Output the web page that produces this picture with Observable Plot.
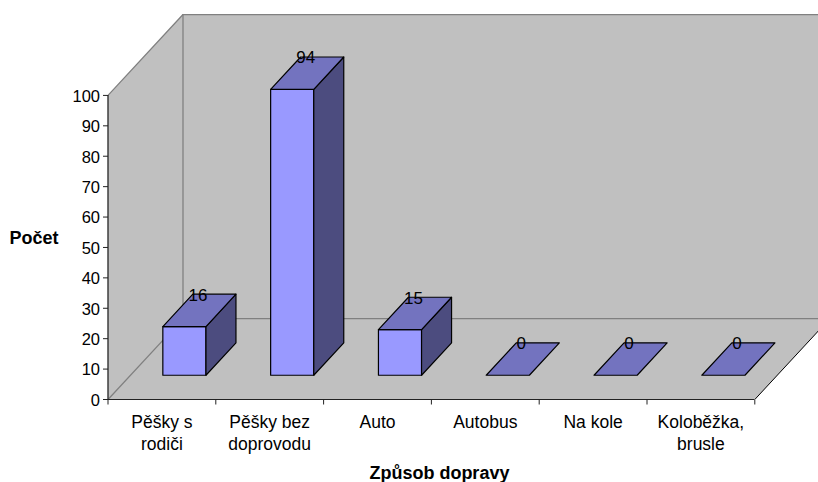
<!DOCTYPE html>
<html><head><meta charset="utf-8">
<script src="https://cdn.jsdelivr.net/npm/d3@7"></script>
<script src="https://cdn.jsdelivr.net/npm/@observablehq/plot@0.6"></script>
<style>html,body{margin:0;padding:0;background:#fff}svg{display:block}</style>
</head><body><div id="chart"></div>
<script>
const categories = ["Pěšky s\nrodiči","Pěšky bez\ndoprovodu","Auto","Autobus","Na kole","Koloběžka,\nbrusle"];
const values = [16,94,15,0,0,0];
const yTicks = [0,10,20,30,40,50,60,70,80,90,100];
const xTicks = [0,1,2,3,4,5,6];

// oblique projection: category position c, value v, depth d (0 front, 1 back)
const depthX = 75/107.8, depthY = 81/3.044;
const P = (c,v,d) => ({x:c+d*depthX, y:v+d*depthY});
const poly = (id,pts) => pts.map(([c,v,d]) => ({id,...P(c,v,d)}));

const barFaces = (face) => values.flatMap((v,i) => {
  const a=i+0.3, b=i+0.7, f=0.3, k=0.7;
  if (face==="front") return v>0 ? poly(i,[[a,0,f],[b,0,f],[b,v,f],[a,v,f],[a,0,f]]) : [];
  if (face==="side")  return v>0 ? poly(i,[[b,0,f],[b,0,k],[b,v,k],[b,v,f],[b,0,f]]) : [];
  return poly(i,[[a,v,f],[b,v,f],[b,v,k],[a,v,k],[a,v,f]]);
});
const walls = [
  ...poly("back",[[0,0,1],[6,0,1],[6,100,1],[0,100,1],[0,0,1]]),
  ...poly("left",[[0,0,0],[0,0,1],[0,100,1],[0,100,0],[0,0,0]]),
  ...poly("floor",[[0,0,0],[6,0,0],[6,0,1],[0,0,1],[0,0,0]])
];
const wallEdges = [
  ...poly("a",[[0,100,0],[0,100,1],[6,100,1]]),
  ...poly("b",[[0,0,0],[0,0,1],[6,0,1]]),
  ...poly("c",[[0,0,1],[0,100,1]])
];
const floorEdge = poly("e",[[6,0,0],[6,0,1]]);
const poly2 = {x:"x",y:"y",z:"id"};
const labels = values.map((v,i)=>({...P(i+0.5,v,0.7),v}));
const catLabels = categories.map((t,i)=>({c:i+0.5,t}));
const font = "Liberation Sans";

const svg = Plot.plot({
  width:818,height:482,
  marginLeft:108,marginRight:0,marginTop:14,marginBottom:82.5,
  x:{domain:[0,710/107.8],range:[107.5,817.5],axis:null},
  y:{domain:[0,100+81/3.044],range:[399,14],axis:null},
  marks:[
    Plot.line(walls,{...poly2,fill:"#c0c0c0",stroke:"none",clip:true}),
    Plot.line(wallEdges,{...poly2,stroke:"#808080",strokeWidth:1.3,clip:true}),
    Plot.line(floorEdge,{...poly2,stroke:"#000",strokeWidth:1,clip:true}),
    Plot.ruleY([0],{x1:0,x2:6,stroke:"#222",strokeWidth:1.2}),
    Plot.ruleX([0],{y1:0,y2:100,stroke:"#333",strokeWidth:1.4}),
    Plot.axisY({ticks:yTicks,anchor:"left",tickSize:5,tickFormat:()=>"",label:null,stroke:"#222"}),
    Plot.axisY({ticks:yTicks,anchor:"left",tickSize:0,tickPadding:8.5,dy:1,label:null,fontSize:16.5,fontFamily:font,fill:"#000"}),
    Plot.axisX({ticks:xTicks,anchor:"bottom",tickSize:5,tickFormat:()=>"",label:null,stroke:"#222"}),
    Plot.line(barFaces("front"),{...poly2,fill:"#9999ff",stroke:"#000",strokeWidth:1.2}),
    Plot.line(barFaces("side"),{...poly2,fill:"#4c4c7f",stroke:"#000",strokeWidth:1.2}),
    Plot.line(barFaces("top"),{...poly2,fill:"#7373bf",stroke:"#000",strokeWidth:1.2}),
    Plot.text(labels,{x:"x",y:"y",text:"v",dx:-16.5,dy:1,fontSize:17,fontFamily:font,fill:"#000"}),
    Plot.text(catLabels,{x:"c",y:0,text:"t",dy:12,lineAnchor:"top",fontSize:17.5,lineHeight:1.29,fontFamily:font,fill:"#000"}),
    Plot.text(["Způsob dopravy"],{x:3,y:0,dx:8,dy:74,fontSize:18,fontWeight:"bold",fontFamily:font,fill:"#000"}),
    Plot.text(["Počet"],{x:0,y:53,dx:-74,fontSize:18,fontWeight:"bold",fontFamily:font,fill:"#000"})
  ]
});
document.getElementById("chart").append(svg);
</script></body></html>
